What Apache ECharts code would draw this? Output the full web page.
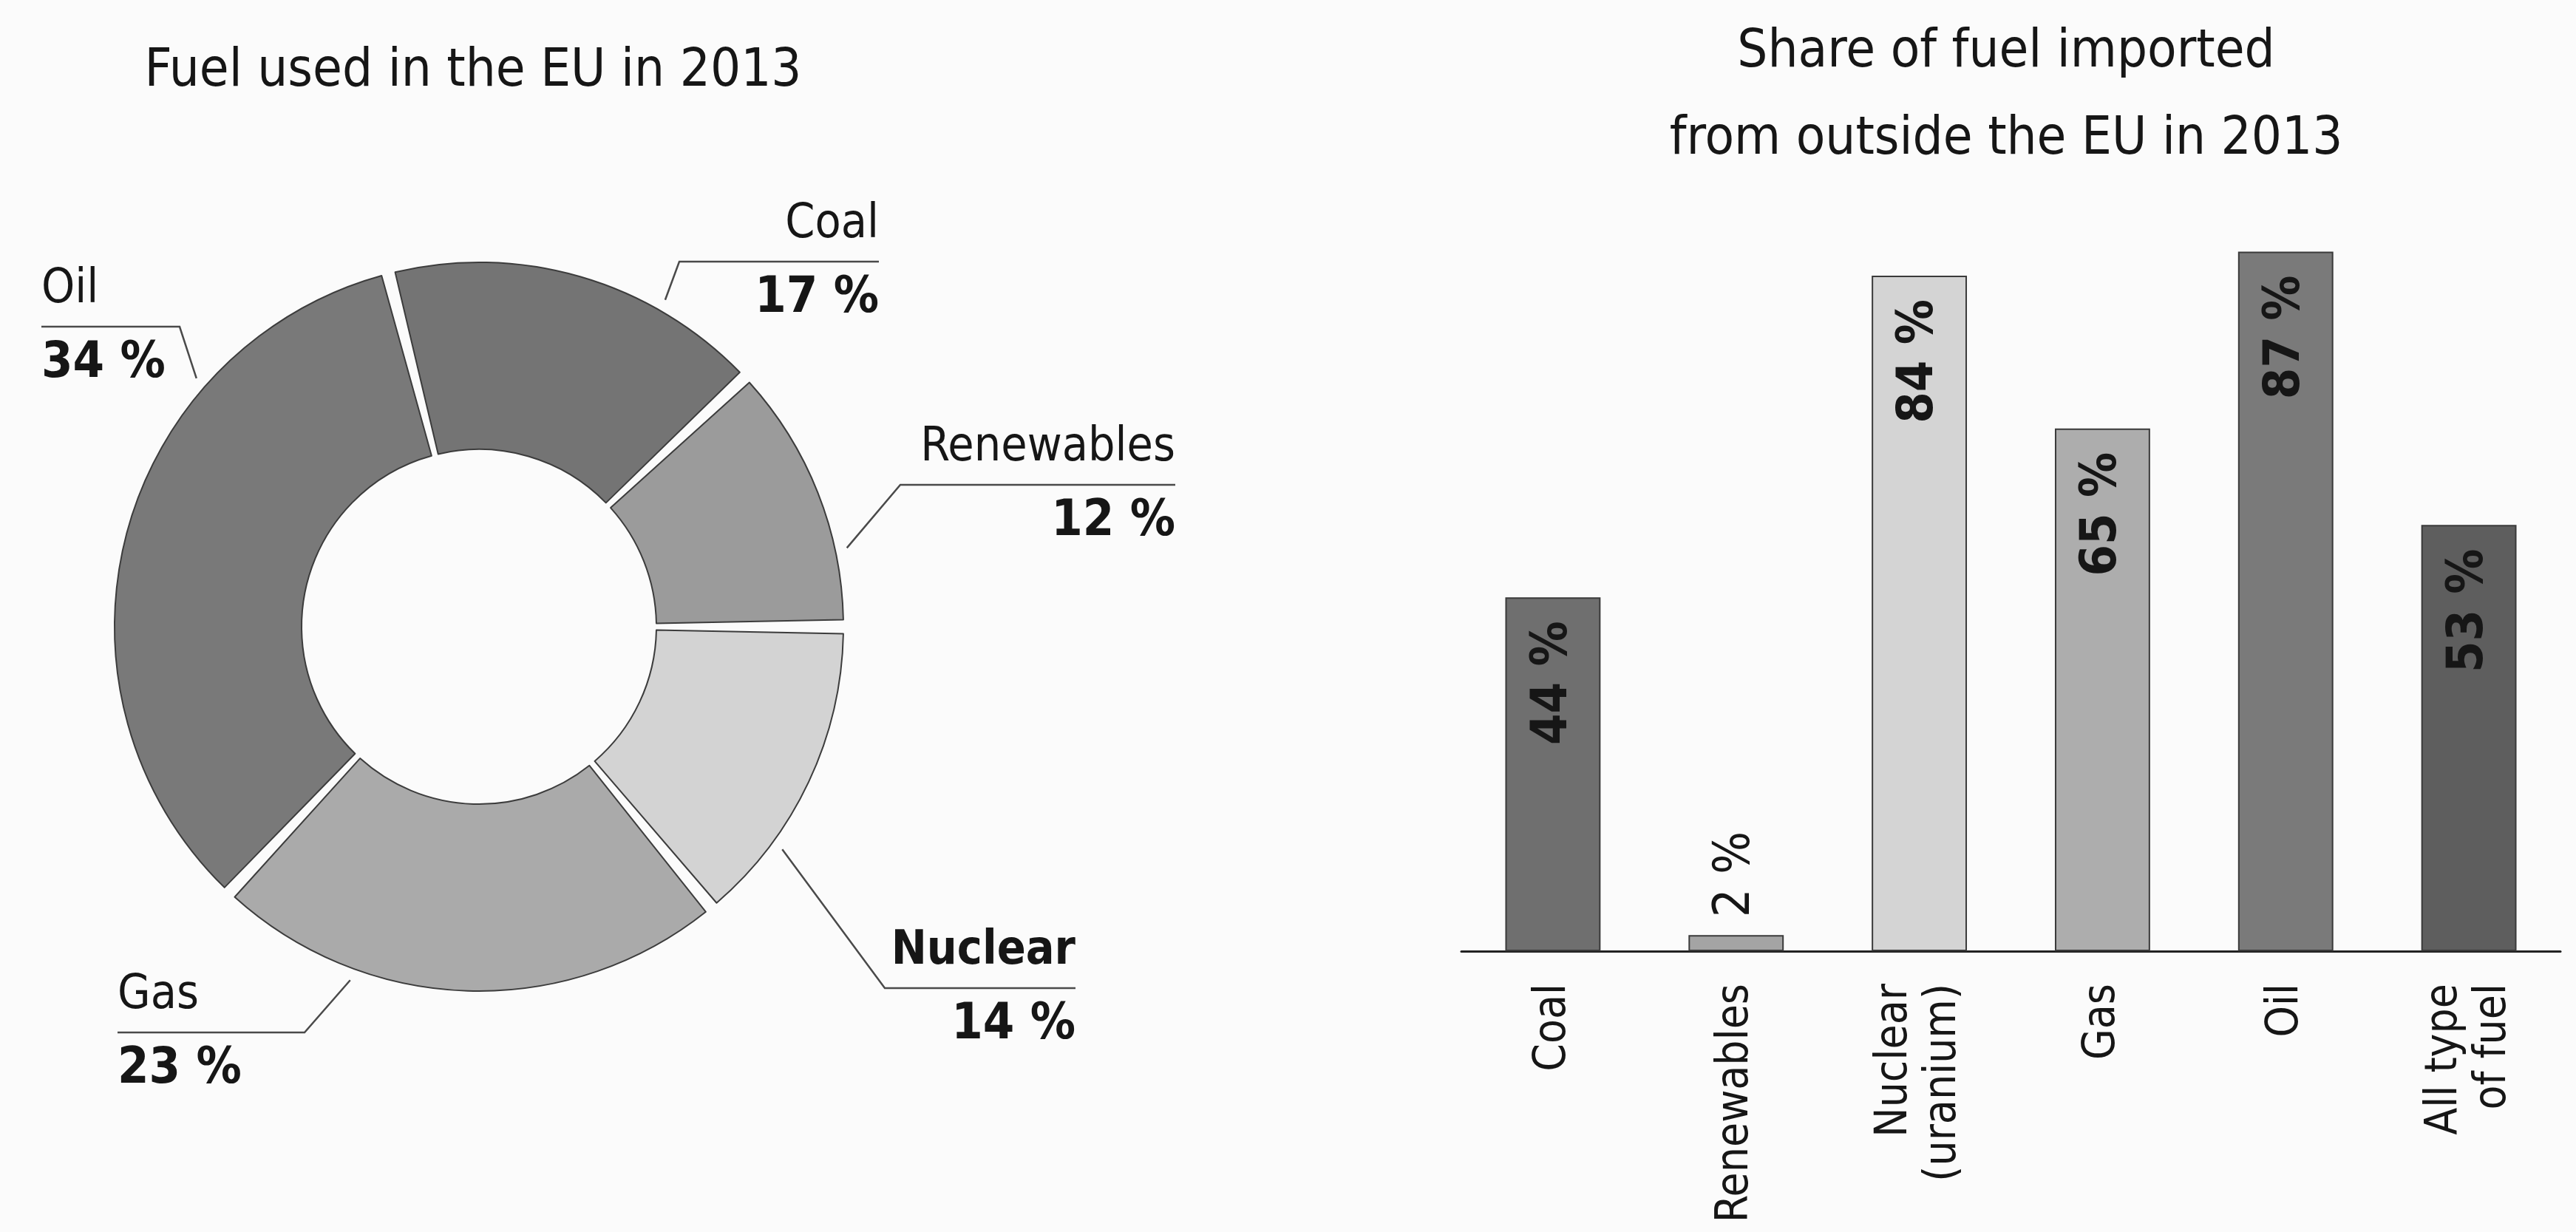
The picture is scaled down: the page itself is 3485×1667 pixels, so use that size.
<!DOCTYPE html>
<html>
<head>
<meta charset="utf-8">
<title>EU fuel use and imports, 2013</title>
<script src="https://cdn.jsdelivr.net/npm/echarts@6/dist/echarts.min.js"></script>
<style>
  html, body { margin: 0; padding: 0; background: #fbfbfb; }
  #chart { width: 3485px; height: 1667px; }
</style>
</head>
<body>
<div id="chart"></div>
<script>
// Fuel mix of the EU in 2013 (share of total, %)
const fuelNames = ['Renewables', 'Coal', 'Oil', 'Gas', 'Nuclear'];
const fuelShares = [12, 17, 34, 23, 14];

// Share of each fuel imported from outside the EU in 2013 (%)
const importCategories = ['Coal', 'Renewables', 'Nuclear\n(uranium)', 'Gas', 'Oil', 'All type\nof fuel'];
const importShares = [44, 2, 84, 65, 87, 53];

// ---- styling ----
const FONT = "'DejaVu Sans Condensed', 'Open Sans', sans-serif";
const TEXT = '#161616';
const sliceColors = ['#9b9b9b', '#747474', '#797979', '#aaaaaa', '#d3d3d3'];
const barColors = ['#6f6f6f', '#a4a4a4', '#d4d4d4', '#adadad', '#7a7a7a', '#5e5e5e'];
const boldNames = ['Nuclear'];

// donut geometry (px)
const pieCenter = [648, 848];
const pieRadius = [240, 493];

// callout placement for each slice: knee of the leader and where its underline ends
const callouts = [
  { elbow: [1218, 656], endX: 1590, side: 'right' },
  { elbow: [919, 354],  endX: 1189, side: 'right' },
  { elbow: [243, 442],  endX: 56,   side: 'left'  },
  { elbow: [412, 1397], endX: 159,  side: 'left'  },
  { elbow: [1197, 1337], endX: 1455, side: 'right' }
];

// leader lines leave each slice a little past its leading edge
const total = fuelShares.reduce((a, b) => a + b, 0);
const leaderDeg = [];
let acc = 0;
fuelShares.forEach(v => {
  const span = v / total * 360;
  leaderDeg.push(acc + span * 0.28);
  acc += span;
});

const chart = echarts.init(document.getElementById('chart'), null, { renderer: 'canvas' });

const option = {
  backgroundColor: '#fbfbfb',
  animation: false,
  title: [
    {
      text: 'Fuel used in the EU in 2013',
      left: 640, top: 43, padding: 0, textAlign: 'center',
      textStyle: { fontFamily: FONT, fontSize: 72, fontWeight: 'normal', color: TEXT, lineHeight: 108 }
    },
    {
      text: 'Share of fuel imported\nfrom outside the EU in 2013',
      left: 2714, top: 12, padding: 0, textAlign: 'center',
      textStyle: { fontFamily: FONT, fontSize: 72, fontWeight: 'normal', color: TEXT, lineHeight: 118 }
    }
  ],
  grid: { left: 1977, top: 199, width: 1487, height: 1088, containLabel: false },
  xAxis: {
    type: 'category',
    data: importCategories,
    axisLine: { lineStyle: { color: '#222', width: 3 } },
    axisTick: { show: false },
    axisLabel: {
      interval: 0, rotate: 90, margin: 44,
      fontFamily: FONT, fontSize: 60, color: TEXT, lineHeight: 66
    }
  },
  yAxis: { type: 'value', min: 0, max: 100, show: false, splitLine: { show: false } },
  series: [
    {
      type: 'pie',
      center: pieCenter,
      radius: pieRadius,
      startAngle: 0,
      clockwise: false,
      padAngle: 2.2,
      avoidLabelOverlap: false,
      itemStyle: { borderColor: '#3c3c3c', borderWidth: 2 },
      data: fuelNames.map((n, i) => ({ name: n, value: fuelShares[i], itemStyle: { color: sliceColors[i] } })),
      label: {
        show: true,
        position: 'outside',
        formatter: p => '{' + (boldNames.includes(p.name) ? 'nb' : 'n') + '|' + p.name + '}\n{v|' + p.value + ' %}',
        rich: {
          n:  { fontFamily: FONT, fontSize: 64, fontWeight: 'normal', color: TEXT, lineHeight: 100 },
          nb: { fontFamily: FONT, fontSize: 64, fontWeight: 'bold', color: TEXT, lineHeight: 100 },
          v:  { fontFamily: FONT, fontSize: 68, fontWeight: 'bold', color: TEXT, lineHeight: 100 }
        }
      },
      labelLine: { show: true, lineStyle: { color: '#4a4a4a', width: 2.5 } },
      labelLayout: function (p) {
        const c = callouts[p.dataIndex];
        const a = leaderDeg[p.dataIndex] * Math.PI / 180;
        const r = pieRadius[1] + 16;
        const start = [pieCenter[0] + r * Math.cos(a), pieCenter[1] - r * Math.sin(a)];
        const y = c.elbow[1];
        return {
          x: c.endX, y: y, align: c.side, verticalAlign: 'middle',
          labelLinePoints: [start, c.elbow, [c.endX, y]]
        };
      }
    },
    {
      type: 'bar',
      barWidth: '52%',
      itemStyle: { borderColor: '#3a3a3a', borderWidth: 2 },
      label: {
        show: true, position: 'insideTop', distance: 32, rotate: 90,
        align: 'right', verticalAlign: 'middle',
        formatter: '{c} %',
        fontFamily: FONT, fontSize: 68, fontWeight: 'bold', color: TEXT
      },
      data: importShares.map((v, i) => {
        const item = { value: v, itemStyle: { color: barColors[i] } };
        // bars too short to hold their value get the label above
        if (v < 15) {
          item.label = { position: 'top', align: 'left', distance: 24, fontWeight: 'normal' };
        }
        return item;
      })
    }
  ]
};

chart.setOption(option);
</script>
</body>
</html>
